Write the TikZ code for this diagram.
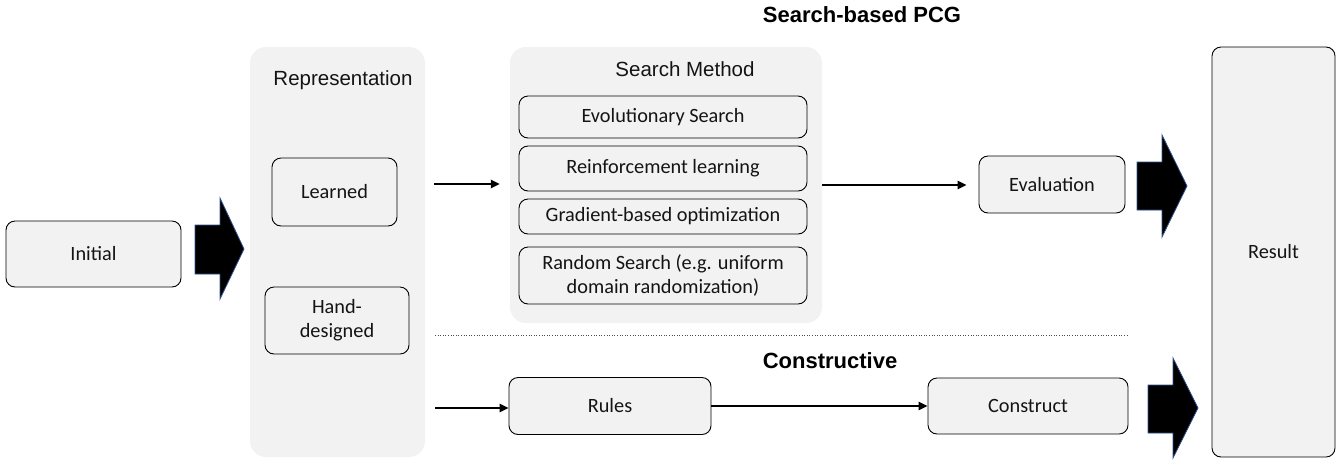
\documentclass[tikz,border=0pt]{standalone}
\usepackage{fontspec}
\setmainfont{Carlito}
\newfontfamily\arialf{Liberation Sans}
\usetikzlibrary{arrows.meta,calc}
\definecolor{boxfill}{HTML}{F2F2F2}
\definecolor{arrowedge}{HTML}{2F528F}
\definecolor{txt}{HTML}{141414}
\tikzset{
  box/.style={draw=black, line width=0.9pt, fill=boxfill, rounded corners=9pt, inner sep=0pt, align=center, font=\fontsize{20.3}{24}\selectfont, text=txt},
  panel/.style={fill=boxfill, draw=none, rounded corners=16pt, inner sep=0pt},
  conn/.style={line width=2.4pt, -{Triangle[length=9pt,width=8pt]}},
  blockarrow/.style={fill=black, draw=arrowedge, line width=0.8pt, line join=miter},
  heading/.style={font=\arialf\bfseries\fontsize{22}{26}\selectfont, text=black},
  paneltitle/.style={font=\arialf\fontsize{20.5}{24}\selectfont, text=txt},
}
\begin{document}
\begin{tikzpicture}[x=1pt,y=-1pt]
\useasboundingbox (0,0) rectangle (1341,459);
% panels
\node[panel, minimum width=175pt, minimum height=410pt] (repr) at (337.5,252) {};
\node[paneltitle] (reprt) at (343,80) {Representation};
\node[panel, minimum width=312pt, minimum height=276pt] (search) at (666,185) {};
\node[paneltitle] (searcht) at (685,69) {Search Method};
% boxes
\node[box, minimum width=175pt, minimum height=66pt] (initial) at (93.5,254) {Initial};
\node[box, minimum width=125pt, minimum height=68pt] (learned) at (334.5,192) {Learned};
\node[box, minimum width=144pt, minimum height=67pt] (hand) at (337,320.5) {Hand-\\designed};
\node[box, minimum width=288pt, minimum height=42pt] (evo) at (663,117) {Evolutionary Search};
\node[box, minimum width=288pt, minimum height=45pt] (rl) at (663,168.5) {Reinforcement learning};
\node[box, minimum width=288pt, minimum height=35pt] (grad) at (663,216.5) {Gradient-based optimization};
\node[box, minimum width=288pt, minimum height=57pt] (rand) at (663,275.5) {Random Search (e.g. uniform\\domain randomization)};
\node[box, minimum width=146pt, minimum height=57pt] (eval) at (1052,184.5) {Evaluation};
\node[box, minimum width=123pt, minimum height=410pt] (result) at (1273.5,252) {Result};
\node[box, minimum width=202pt, minimum height=57pt] (rules) at (610,406) {Rules};
\node[box, minimum width=200pt, minimum height=56pt] (construct) at (1028,406) {Construct};
% headings
\node[heading] (sbpcg) at (862,15) {Search-based PCG};
\node[heading] (constr) at (830,361) {Constructive};
% dotted separator
\coordinate (dl) at (435,335);
\coordinate (dr) at (1128,335);
\draw[dotted, line width=0.6pt, black!70] (dl) -- (dr);
% connectors
\coordinate (a1) at (434,184);
\draw[conn, shorten >=10pt] (a1) -- (a1 -| search.west);
\coordinate (a2) at (435,408);
\draw[conn] (a2) -- (a2 -| rules.west);
\coordinate (a3) at (822,185);
\draw[conn, shorten >=12pt] (a3) -- (a3 -| eval.west);
\draw[conn] (rules.east) -- (rules.east -| construct.west);
% block arrows
\draw[blockarrow] (195,225) -- (220,225) -- (220,198) -- (244,249) -- (220,299) -- (220,274) -- (195,274) -- cycle;
\draw[blockarrow] (1137,162) -- (1162,162) -- (1162,135) -- (1187,186) -- (1162,237) -- (1162,210) -- (1137,210) -- cycle;
\draw[blockarrow] (1148,385) -- (1173,385) -- (1173,358) -- (1198,408) -- (1173,458) -- (1173,433) -- (1148,433) -- cycle;
\end{tikzpicture}
\end{document}
